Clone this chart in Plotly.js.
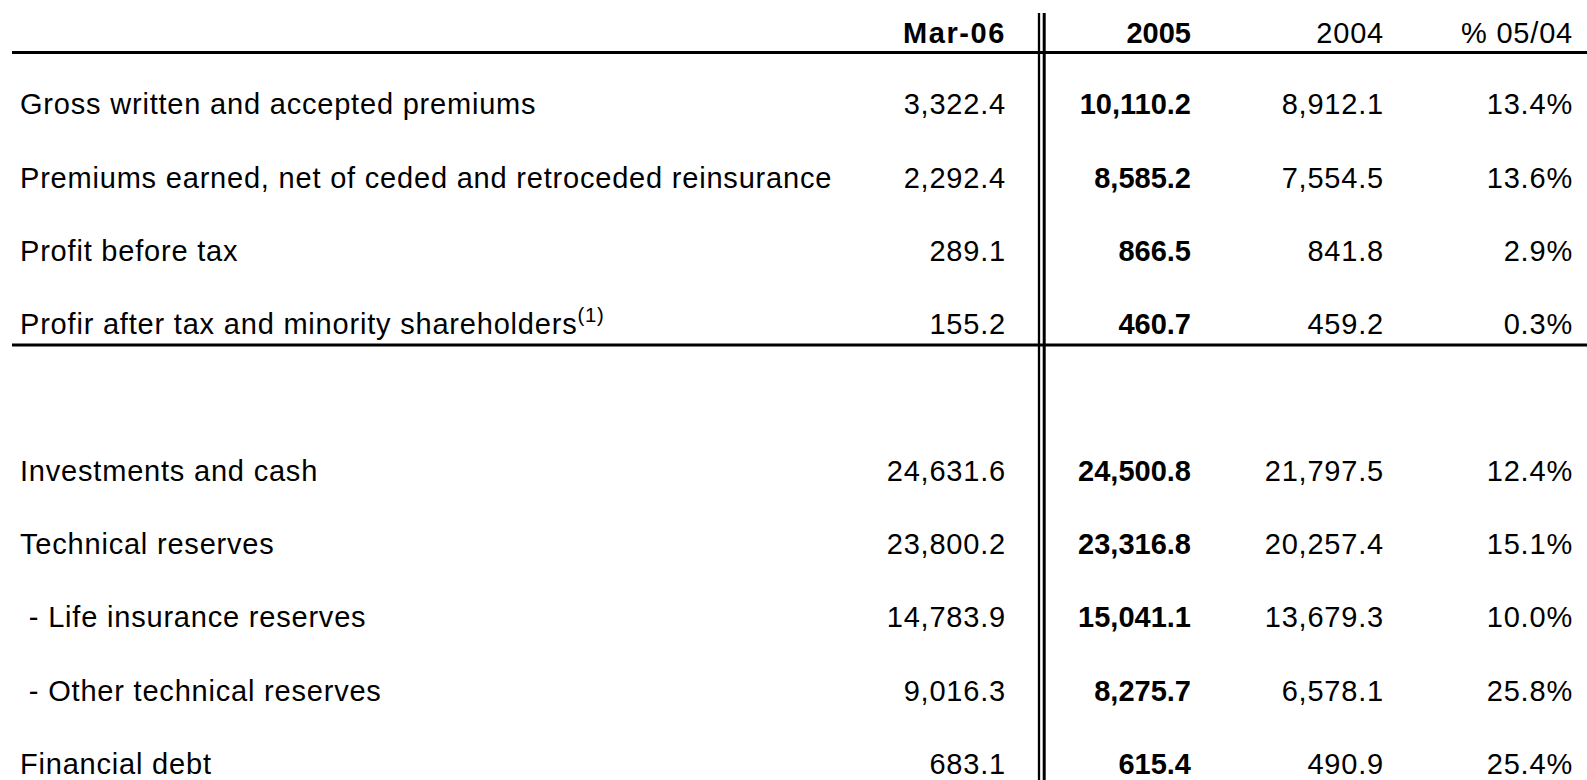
<!DOCTYPE html>
<html>
<head>
<meta charset="utf-8">
<script src="https://cdn.plot.ly/plotly-3.0.1.min.js"></script>
<style>
html,body{margin:0;padding:0;background:#fff;}
#chart{width:1587px;height:780px;}
</style>
</head>
<body>
<div id="chart"></div>
<script>
// ---- data ----
var rowLabels = [
  'Gross written and accepted premiums',
  'Premiums earned, net of ceded and retroceded reinsurance',
  'Profit before tax',
  'Profir after tax and minority shareholders<sup>(1)</sup>',
  'Investments and cash',
  'Technical reserves',
  ' - Life insurance reserves',
  ' - Other technical reserves',
  'Financial debt'
];
var colHeaders = ['Mar-06', '2005', '2004', '% 05/04'];
var valuesMar06 = [3322.4, 2292.4, 289.1, 155.2, 24631.6, 23800.2, 14783.9, 9016.3, 683.1];
var values2005  = [10110.2, 8585.2, 866.5, 460.7, 24500.8, 23316.8, 15041.1, 8275.7, 615.4];
var values2004  = [8912.1, 7554.5, 841.8, 459.2, 21797.5, 20257.4, 13679.3, 6578.1, 490.9];
var changePct   = [13.4, 13.6, 2.9, 0.3, 12.4, 15.1, 10.0, 25.8, 25.4];
var rowSlots    = [0, 1, 2, 3, 5, 6, 7, 8, 9];

// ---- helpers ----
function fmt(v){ return v.toLocaleString('en-US',{minimumFractionDigits:1, maximumFractionDigits:1}); }
var FONT = 'Liberation Sans, Arial, sans-serif';
var FS = 29;

// slot k -> pixel slot0 + pxPerSlot*k
var pxPerSlot = 73.3, slot0 = 107;
function pxToSlot(p){ return (p - slot0)/pxPerSlot; }
var HEADER_SLOT = pxToSlot(36);

function colTrace(xPos, header, vals, bold, headerBold){
  var texts = [headerBold ? '<b>'+header+'</b>' : header].concat(vals);
  var ys = [HEADER_SLOT].concat(rowSlots);
  return {
    type:'scatter', mode:'text', x: ys.map(function(){return xPos;}), y: ys,
    text: texts, textposition:'middle left', cliponaxis:false, hoverinfo:'skip',
    textfont:{family:FONT, size:FS, color:'#000', weight: bold ? 'bold' : 'normal'},
    showlegend:false
  };
}

var traces = [
  {
    type:'scatter', mode:'text', x: rowSlots.map(function(){return 20;}), y: rowSlots,
    text: rowLabels, textposition:'middle right', cliponaxis:false, hoverinfo:'skip',
    textfont:{family:FONT, size:FS, color:'#000'}, showlegend:false
  },
  colTrace(1006, colHeaders[0], valuesMar06.map(fmt), false, true),
  colTrace(1191, colHeaders[1], values2005.map(fmt), true, true),
  colTrace(1384, colHeaders[2], values2004.map(fmt), false, false),
  colTrace(1573, colHeaders[3], changePct.map(function(v){return v.toFixed(1)+'%';}), false, false)
];

var shapes = [
  {type:'line', xref:'x', yref:'y', x0:12, x1:1587, y0:pxToSlot(52.5), y1:pxToSlot(52.5), line:{color:'#000', width:3}},
  {type:'line', xref:'x', yref:'y', x0:12, x1:1587, y0:pxToSlot(345), y1:pxToSlot(345), line:{color:'#000', width:3}},
  {type:'line', xref:'x', yref:'y', x0:1039, x1:1039, y0:pxToSlot(13), y1:pxToSlot(780), line:{color:'#000', width:2.3}},
  {type:'line', xref:'x', yref:'y', x0:1044.2, x1:1044.2, y0:pxToSlot(13), y1:pxToSlot(780), line:{color:'#000', width:3}}
];

var layout = {
  width:1587, height:780,
  margin:{l:0, r:0, t:0, b:0},
  paper_bgcolor:'#fff', plot_bgcolor:'#fff',
  xaxis:{range:[0,1587], visible:false, fixedrange:true},
  yaxis:{range:[pxToSlot(780), pxToSlot(0)], visible:false, fixedrange:true},
  shapes: shapes,
  showlegend:false
};

Plotly.newPlot('chart', traces, layout, {displayModeBar:false, staticPlot:true}).then(function(gd){
  var traceGroups = gd.querySelectorAll('.scatterlayer .trace');
  traceGroups.forEach(function(g, i){
    var spacing = (i === 2) ? '0px' : '0.8px';
    g.querySelectorAll('.textpoint text').forEach(function(t, j){
      var s = spacing;
      if (i === 1 && j === 0) s = '1.6px';
      if (i === 2) s = '0px';
      t.style.letterSpacing = s;
    });
  });
});
</script>
</body>
</html>
